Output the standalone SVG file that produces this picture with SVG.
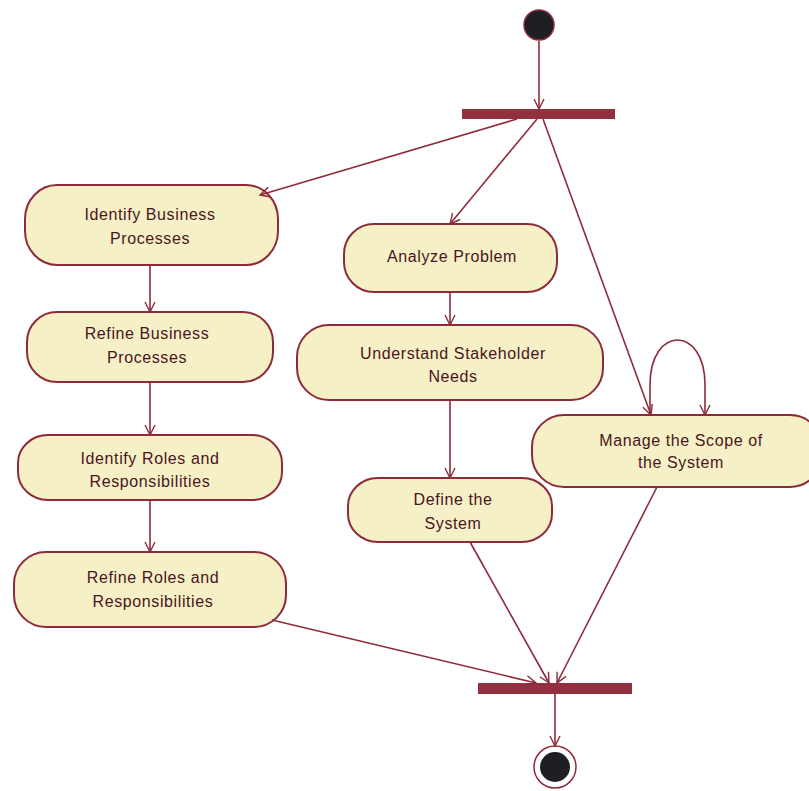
<svg xmlns="http://www.w3.org/2000/svg" width="809" height="791" viewBox="0 0 809 791">
<defs>
<style>
.node{fill:#f6f0c6;stroke:#8e2b3b;stroke-width:2}
.lbl{font-family:"Liberation Sans",Arial,sans-serif;font-size:16px;fill:#4a1422;text-anchor:middle;letter-spacing:0.6px}
.edge{fill:none;stroke:#8e2b3b;stroke-width:1.6}
.bar{fill:#933040}
</style>
<marker id="arr" viewBox="0 0 12 12" refX="11" refY="6" markerWidth="12" markerHeight="12" markerUnits="userSpaceOnUse" orient="auto">
<path d="M1,1 L11,6 L1,11" fill="none" stroke="#8e2b3b" stroke-width="1.4"/>
</marker>
</defs>
<rect width="809" height="791" fill="#ffffff"/>
<g id="start"><circle cx="539" cy="25" r="15" fill="#1e1f22" stroke="#8e2b3b" stroke-width="1.5"/></g>
<g id="fork"><rect class="bar" x="462" y="109" width="153" height="10"/></g>
<g id="join"><rect class="bar" x="478" y="683" width="154" height="11"/></g>
<g id="end"><circle cx="555" cy="767" r="21" fill="none" stroke="#8e2b3b" stroke-width="1.5"/><circle cx="555" cy="767" r="15" fill="#1e1f22"/></g>
<g id="n1"><rect class="node" x="25" y="185" width="253" height="80" rx="32" ry="34"/><text class="lbl" x="150" y="220">Identify Business</text><text class="lbl" x="150" y="244">Processes</text></g>
<g id="n2"><rect class="node" x="27" y="312" width="246" height="70" rx="30" ry="30"/><text class="lbl" x="147" y="339">Refine Business</text><text class="lbl" x="147" y="363">Processes</text></g>
<g id="n3"><rect class="node" x="18" y="435" width="264" height="65" rx="30" ry="28"/><text class="lbl" x="150" y="464">Identify Roles and</text><text class="lbl" x="150" y="487">Responsibilities</text></g>
<g id="n4"><rect class="node" x="14" y="552" width="272" height="75" rx="32" ry="32"/><text class="lbl" x="153" y="583">Refine Roles and</text><text class="lbl" x="153" y="607">Responsibilities</text></g>
<g id="n5"><rect class="node" x="344" y="224" width="213" height="68" rx="30" ry="30"/><text class="lbl" x="452" y="262">Analyze Problem</text></g>
<g id="n6"><rect class="node" x="297" y="325" width="306" height="75" rx="32" ry="32"/><text class="lbl" x="453" y="359">Understand Stakeholder</text><text class="lbl" x="453" y="382">Needs</text></g>
<g id="n7"><rect class="node" x="348" y="478" width="204" height="64" rx="30" ry="28"/><text class="lbl" x="453" y="505">Define the</text><text class="lbl" x="453" y="529">System</text></g>
<g id="n8"><rect class="node" x="532" y="415" width="290" height="72" rx="32" ry="32"/><text class="lbl" x="681" y="446">Manage the Scope of</text><text class="lbl" x="681" y="468">the System</text></g>
<g id="connectors">
<path class="edge" d="M539,41 L539,109" marker-end="url(#arr)"/>
<path class="edge" d="M517,119 L260,195" marker-end="url(#arr)"/>
<path class="edge" d="M537,119 L450,224" marker-end="url(#arr)"/>
<path class="edge" d="M543,119 L651,415" marker-end="url(#arr)"/>
<path class="edge" d="M650,415 L650,385 C650,325 705,325 705,385 L705,415" marker-end="url(#arr)"/>
<path class="edge" d="M150,265 L150,312" marker-end="url(#arr)"/>
<path class="edge" d="M150,382 L150,435" marker-end="url(#arr)"/>
<path class="edge" d="M150,500 L150,552" marker-end="url(#arr)"/>
<path class="edge" d="M450,292 L450,325" marker-end="url(#arr)"/>
<path class="edge" d="M450,400 L450,478" marker-end="url(#arr)"/>
<path class="edge" d="M272,620 L536,683" marker-end="url(#arr)"/>
<path class="edge" d="M470,542 L549,683" marker-end="url(#arr)"/>
<path class="edge" d="M657,487 L557,683" marker-end="url(#arr)"/>
<path class="edge" d="M555,694 L555,746" marker-end="url(#arr)"/>
</g>
</svg>
